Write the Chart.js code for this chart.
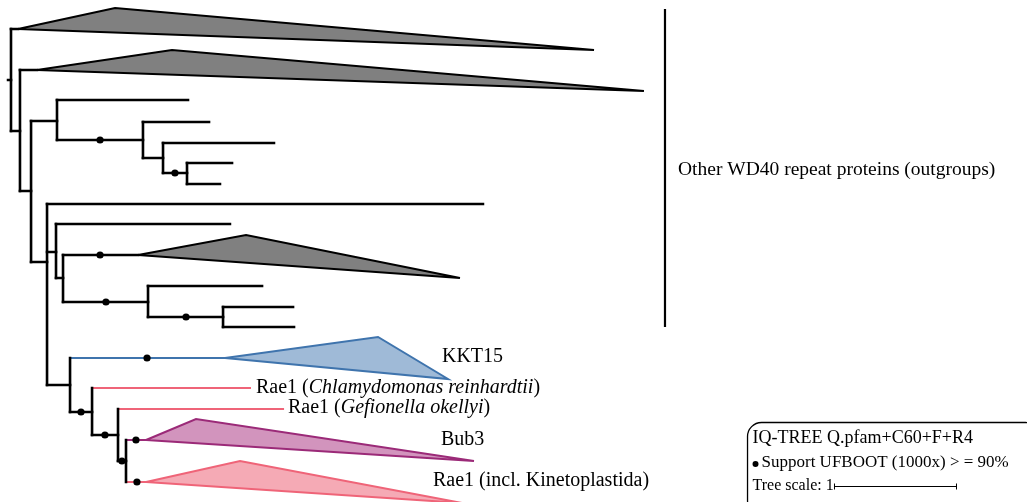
<!DOCTYPE html>
<html>
<head>
<meta charset="utf-8">
<style>
  html,body{margin:0;padding:0;background:#fff;}
  canvas{display:block;}
</style>
<script src="https://cdn.jsdelivr.net/npm/chart.js@4.4.1/dist/chart.umd.min.js"></script>
</head>
<body>
<canvas id="c" width="1027" height="502"></canvas>
<script>
// ---- Tree data (x = branch length in substitutions/site, y = vertical layout position) ----
// horizontal black branches: [y, xStart, xEnd]
const blackBranches = [
  [8.0,-0.024,0],[2.9,0,0.057],[13.1,0,0.073],[7.0,0.073,0.211],[19.1,0.073,0.163],
  [12.1,0.163,0.374],[26.2,0.163,0.293],[10.0,0.374,1.439],[14.0,0.374,1.073],
  [12.2,1.073,1.610],[15.8,1.073,1.236],[14.3,1.236,2.138],[17.3,1.236,1.431],
  [16.3,1.431,1.797],[18.4,1.431,1.699],[20.4,0.293,3.837],[25.2,0.293,0.366],
  [22.4,0.366,1.780],[27.8,0.366,0.423],[25.5,0.423,1.033],[30.2,0.423,1.114],
  [28.6,1.114,2.041],[31.7,1.114,1.724],[30.7,1.724,2.293],[32.7,1.724,2.301],
  [38.5,0.293,0.480],[41.2,0.480,0.659],[43.5,0.659,0.870],[46.1,0.870,0.935]
];
// internal node connectors: [x, yTop, yBottom]
const nodeConnectors = [
  [0,2.9,13.1],[0.073,7.0,19.1],[0.163,12.1,26.2],[0.374,10.0,14.0],[1.073,12.2,15.8],
  [1.236,14.3,17.3],[1.431,16.3,18.4],[0.293,20.4,38.5],[0.366,22.4,27.8],[0.423,25.5,30.2],
  [1.114,28.6,31.7],[1.724,30.7,32.7],[0.480,35.8,41.2],[0.659,38.8,43.5],[0.870,40.9,46.1],
  [0.935,44.0,48.2]
];
const blueBranches = [[35.8,0.480,1.740]];
const pinkBranches = [[38.8,0.659,1.951],[40.9,0.870,2.220],[48.2,0.935,1.098]];
const purpleBranches = [[44.0,0.935,1.098]];
// collapsed clades: [apex, upper vertex, far tip] as [x, y]
const grayClades = [
  [[0.057,2.9],[0.846,0.8],[4.740,5.0]],
  [[0.211,7.0],[1.309,5.0],[5.146,9.1]],
  [[1.033,25.5],[1.911,23.5],[3.650,27.8]]
];
const kkt15Clade = [[1.740,35.8],[2.984,33.7],[3.553,37.9]];
const bub3Clade = [[1.098,44.0],[1.504,41.9],[3.764,46.1]];
const rae1Clade = [[1.098,48.2],[1.862,46.1],[3.667,50.3]];
// supported nodes (UFBOOT >= 90%): [x, y]
const supportDots = [
  [0.724,14.0],[1.333,17.3],[0.724,25.5],[0.772,30.2],[1.423,31.7],[1.106,35.8],
  [0.569,41.2],[0.764,43.5],[0.902,46.1],[1.016,44.0],[1.024,48.2]
];
// outgroup bracket: [x, yTop, yBottom]
const outgroupBracket = [5.317,0.9,32.7];
// label texts (segments: [text, italic])
const labelTexts = [
  [['KKT15',false]],
  [['Rae1 (',false],['Chlamydomonas reinhardtii',true],[')',false]],
  [['Rae1 (',false],['Gefionella okellyi',true],[')',false]],
  [['Bub3',false]],
  [['Rae1 (incl. Kinetoplastida)',false]],
  [['Other WD40 repeat proteins (outgroups)',false]]
];
const labelAnchors = [[3.504,35.7],[1.992,38.8],[2.252,40.8],[3.496,44.0],[3.431,48.1],[5.423,17.0]];
const legendLines = ['IQ-TREE Q.pfam+C60+F+R4','Support UFBOOT (1000x) > = 90%','Tree scale: 1'];
const treeScaleLength = 1;

// ---- Build datasets ----
function segs(list, vertical){
  const pts=[];
  list.forEach(s=>{
    if(vertical){pts.push({x:s[0],y:s[1]},{x:s[0],y:s[2]});}
    else{pts.push({x:s[1],y:s[0]},{x:s[2],y:s[0]});}
    pts.push({x:NaN,y:NaN});
  });
  return pts;
}
function lineDs(data,color,width,order,cap){
  return {type:'line',data,borderColor:color,borderWidth:width,pointRadius:0,showLine:true,
    spanGaps:false,fill:false,tension:0,order,borderCapStyle:cap||'butt',borderJoinStyle:'miter'};
}
function triDs(tri,fillC,strokeC,width){
  const pts=tri.map(p=>({x:p[0],y:p[1]}));
  pts.push({x:tri[0][0],y:tri[0][1]});
  return {type:'line',data:pts,borderColor:strokeC,backgroundColor:fillC,borderWidth:width,
    pointRadius:0,showLine:true,fill:'shape',tension:0,order:3,borderJoinStyle:'miter'};
}
const datasets=[];
datasets.push({type:'scatter',data:supportDots.map(p=>({x:p[0],y:p[1]})),pointRadius:3.6,
  pointBackgroundColor:'#000',pointBorderWidth:0,showLine:false,order:0});
datasets.push(lineDs(segs(blackBranches,false),'#000',2.6,1,'square'));
datasets.push(lineDs(segs(nodeConnectors,true),'#000',2.6,1,'square'));
datasets.push(lineDs(segs(blueBranches,false),'#3f74ad',2,2));
datasets.push(lineDs(segs(pinkBranches,false),'#ef6478',2,2));
datasets.push(lineDs(segs(purpleBranches,false),'#9b2a78',2,2));
datasets.push(lineDs(segs([outgroupBracket],true),'#000',2.2,2));
grayClades.forEach(t=>datasets.push(triDs(t,'#808080','#000',2.2)));
datasets.push(triDs(kkt15Clade,'#9fbad7','#3f74ad',2));
datasets.push(triDs(bub3Clade,'#d294bd','#9b2a78',2));
datasets.push(triDs(rae1Clade,'#f5aab5','#ef6478',2));

const SERIF='"Liberation Serif","DejaVu Serif",serif';
const textPlugin={
  id:'treeText',
  afterDatasetsDraw(chart){
    const ctx=chart.ctx, xs=chart.scales.x, ys=chart.scales.y;
    ctx.save();
    ctx.fillStyle='#000';
    ctx.textBaseline='middle';
    ctx.textAlign='left';
    labelTexts.forEach((parts,i)=>{
      let px=xs.getPixelForValue(labelAnchors[i][0]);
      const py=ys.getPixelForValue(labelAnchors[i][1]);
      const size = i===5 ? 19.5 : 20;
      parts.forEach(([t,it])=>{
        ctx.font=(it?'italic ':'')+size+'px '+SERIF;
        ctx.fillText(t,px,py);
        px+=ctx.measureText(t).width;
      });
    });
    // legend box
    const bx=xs.getPixelForValue(5.984)+0.5, by=ys.getPixelForValue(42.2)+0.5;
    const bw=292, bh=92, r=14;
    ctx.lineWidth=1.3; ctx.strokeStyle='#000';
    ctx.beginPath();
    ctx.roundRect(bx,by,bw,bh,r);
    ctx.stroke();
    const tx=bx+5;
    ctx.font='18px '+SERIF;
    ctx.fillText(legendLines[0],tx,ys.getPixelForValue(43.8));
    // support marker
    const l2y=ys.getPixelForValue(46.3);
    ctx.beginPath();ctx.arc(tx+3,l2y+1,3,0,Math.PI*2);ctx.fill();
    ctx.font='17px '+SERIF;
    ctx.fillText(legendLines[1],tx+9,l2y);
    ctx.font='16px '+SERIF;
    ctx.fillText(legendLines[2],tx,ys.getPixelForValue(48.6));
    // tree scale bar through the x scale
    const s0=xs.getPixelForValue(6.691), s1=xs.getPixelForValue(6.691+treeScaleLength);
    const sy=Math.round(ys.getPixelForValue(48.6))+0.5;
    ctx.lineWidth=1;
    ctx.beginPath();
    ctx.moveTo(s0,sy);ctx.lineTo(s1,sy);
    ctx.moveTo(s0+0.5,sy-3);ctx.lineTo(s0+0.5,sy+3);
    ctx.moveTo(s1-0.5,sy-3);ctx.lineTo(s1-0.5,sy+3);
    ctx.stroke();
    ctx.restore();
  }
};

new Chart(document.getElementById('c'),{
  type:'scatter',
  data:{datasets},
  options:{
    responsive:false,animation:false,devicePixelRatio:1,
    layout:{padding:0,autoPadding:false},
    plugins:{legend:{display:false},tooltip:{enabled:false}},
    events:[],
    scales:{
      x:{type:'linear',display:false,min:-0.0894,max:8.2602},
      y:{type:'linear',display:false,min:0,max:50.2,reverse:true}
    }
  },
  plugins:[textPlugin]
});
</script>
</body>
</html>
